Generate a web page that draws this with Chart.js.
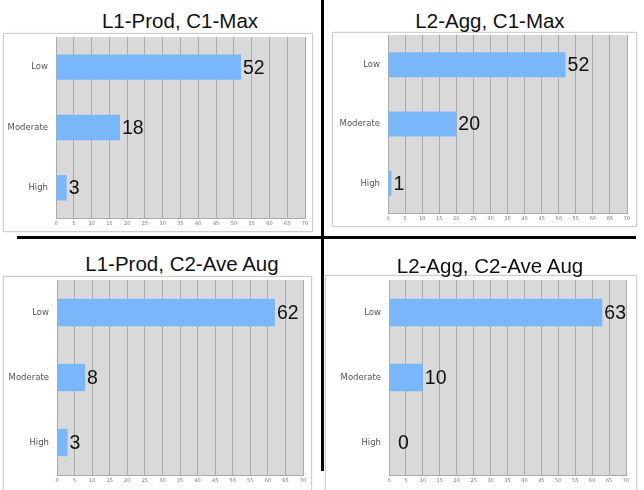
<!DOCTYPE html>
<html>
<head>
<meta charset="utf-8">
<script src="https://cdn.jsdelivr.net/npm/chart.js@4.4.1/dist/chart.umd.min.js"></script>
<style>
  body { margin: 0; background: #fff; width: 644px; height: 490px; position: relative; overflow: hidden; font-family: "Liberation Sans", Arial, sans-serif; }
  .title { position: absolute; width: 320px; text-align: center; font-size: 20.5px; line-height: 24px; color: #111; z-index: 2; }
  .box { position: absolute; border: 1px solid #cfcfcf; background: #fff; box-shadow: 0 0 2px #ddd; }
  .box canvas { display: block; }
  .vline { position: absolute; left: 321px; top: 0; width: 3px; height: 471px; background: #000; }
  .hline { position: absolute; left: 17px; top: 236px; width: 619px; height: 3px; background: #000; }
</style>
</head>
<body>
<div class="vline"></div>
<div class="hline"></div>

<div class="title" style="left:20px; top:9px;">L1-Prod, C1-Max</div>
<div class="title" style="left:330px; top:9px;">L2-Agg, C1-Max</div>
<div class="title" style="left:22px; top:252px;">L1-Prod, C2-Ave Aug</div>
<div class="title" style="left:330px; top:254px;">L2-Agg, C2-Ave Aug</div>

<div class="box" style="left:3px; top:33px;"><canvas id="c1" width="308" height="197"></canvas></div>
<div class="box" style="left:332px; top:32px;"><canvas id="c2" width="303" height="193"></canvas></div>
<div class="box" style="left:3px; top:276px;"><canvas id="c3" width="307" height="214"></canvas></div>
<div class="box" style="left:325px; top:275px;"><canvas id="c4" width="310" height="215"></canvas></div>

<script>
// data
const categories = ['Low', 'Moderate', 'High'];
const prodMax = [52, 18, 3];
const aggMax = [52, 20, 1];
const prodAve = [62, 8, 3];
const aggAve = [63, 10, 0];
const axisMin = 0;
const axisMax = 70;
const axisStep = 5;

// grey plot background
const plotBg = {
  id: 'plotBg',
  beforeDraw(chart) {
    const a = chart.chartArea;
    const ctx = chart.ctx;
    ctx.save();
    ctx.fillStyle = '#d9d9d9';
    ctx.fillRect(a.left, a.top, a.right - a.left, a.bottom - a.top);
    ctx.restore();
  }
};

// numbers at bar ends
const barValues = {
  id: 'barValues',
  afterDatasetsDraw(chart) {
    const ctx = chart.ctx;
    const meta = chart.getDatasetMeta(0);
    const vals = chart.data.datasets[0].data;
    ctx.save();
    ctx.fillStyle = '#111';
    ctx.font = '19.5px "Liberation Sans", Arial, sans-serif';
    ctx.textBaseline = 'middle';
    meta.data.forEach((bar, i) => {
      let x = bar.x + 2;
      if (vals[i] == 0) x = chart.chartArea.left + 9;
      ctx.fillText(vals[i], x, bar.y + 1);
    });
    ctx.restore();
  }
};

function makeChart(id, values, leftW, pad) {
  const ctx = document.getElementById(id).getContext('2d');
  return new Chart(ctx, {
    type: 'bar',
    data: {
      labels: categories,
      datasets: [{
        data: values,
        backgroundColor: 'rgb(122,182,250)',
        borderWidth: 0,
        barPercentage: 0.84,
        categoryPercentage: 0.5
      }]
    },
    options: {
      indexAxis: 'y',
      responsive: false,
      animation: false,
      layout: {
        autoPadding: false,
        padding: { top: pad.top, right: pad.right, left: 0, bottom: 0 }
      },
      plugins: { legend: { display: false }, tooltip: { enabled: false } },
      scales: {
        x: {
          min: axisMin,
          max: axisMax,
          ticks: {
            stepSize: axisStep,
            color: '#777',
            font: { size: 5, family: 'DejaVu Sans' },
            padding: 3,
            maxRotation: 0,
            autoSkip: false
          },
          grid: { color: '#aaaaaa', drawTicks: false },
          border: { display: true, color: '#aaaaaa' },
          afterFit(scale) {
            scale.height = pad.bottom;
            scale.paddingLeft = 0;
            scale.paddingRight = 0;
          }
        },
        y: {
          ticks: {
            color: '#555',
            font: { size: 8.5, family: 'DejaVu Sans' },
            padding: 8
          },
          grid: { display: false, drawTicks: false },
          border: { display: false },
          afterFit(scale) {
            scale.width = leftW;
            // the labels sit inside the bands, no extra room needed
            scale.paddingTop = 0;
            scale.paddingBottom = 0;
          }
        }
      }
    },
    plugins: [plotBg, barValues]
  });
}

makeChart('c1', prodMax, 52, { top: 3, right: 7, bottom: 13 });
makeChart('c2', aggMax, 55, { top: 2, right: 9, bottom: 13 });
makeChart('c3', prodAve, 53, { top: 3, right: 8, bottom: 16 });
makeChart('c4', aggAve, 63, { top: 4, right: 10, bottom: 16 });
</script>
</body>
</html>
